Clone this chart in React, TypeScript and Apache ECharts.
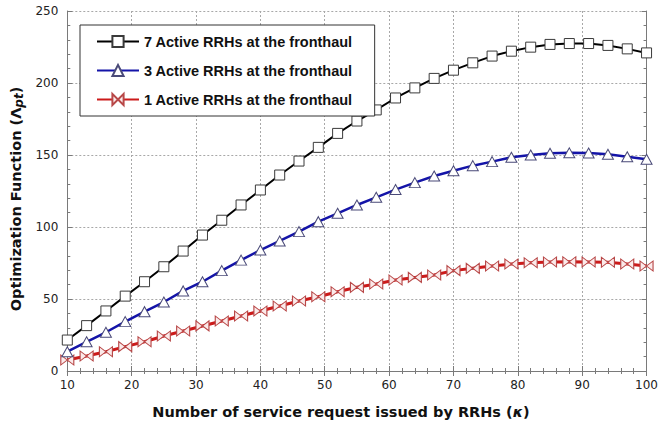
import React, { useEffect, useRef } from "react";
import * as echarts from "echarts";

// Number of service requests (κ), sampled every 3 units
const kappa: number[] = [10, 13, 16, 19, 22, 25, 28, 31, 34, 37, 40, 43, 46, 49, 52, 55, 58, 61, 64, 67, 70, 73, 76, 79, 82, 85, 88, 91, 94, 97, 100];

const seriesNames: string[] = [
  "7 Active RRHs at the fronthaul",
  "3 Active RRHs at the fronthaul",
  "1 Active RRHs at the fronthaul",
];

const sevenRRH: number[] = [21.5, 31.5, 41.7, 52, 62, 72.4, 83.3, 94.4, 104.7, 115.3, 125.7, 136.1, 145.8, 155.3, 165, 173.6, 181.3, 189.6, 196.6, 203.2, 208.9, 214, 218.7, 222.1, 224.9, 226.8, 227.4, 227.4, 226.1, 223.7, 220.9];
const threeRRH: number[] = [13.4, 20.3, 26.9, 34.3, 41.2, 47.9, 55.6, 62, 69.7, 77, 84, 90.3, 96.8, 103.7, 109.5, 115.3, 120.6, 126, 130.8, 135.4, 139.1, 142.6, 145.4, 148.4, 150, 151.2, 151.5, 151.4, 150.5, 148.8, 147];
const oneRRH: number[] = [7.6, 10.4, 13.4, 16.9, 20.3, 24.3, 27.8, 31.3, 34.7, 38.2, 41.7, 45.1, 48.6, 51.6, 55, 58.1, 60.4, 63.2, 65, 66.7, 69.7, 71.3, 72.9, 74.3, 75.2, 75.7, 75.9, 75.7, 75.5, 74.3, 72.9];

const FONT = "Arial, 'Liberation Sans', sans-serif";
const WIDE = "'DejaVu Sans', Verdana, sans-serif";
const bowtie = "path://M0,0L10,5L0,10ZM20,0L10,5L20,10Z";

const pairs = (ys: number[]) => kappa.map((k, i) => [k, ys[i]]);

export default function App() {
  const ref = useRef<HTMLDivElement>(null);

  useEffect(() => {
    if (!ref.current) return;
    const chart = echarts.init(ref.current, null, { renderer: "svg" });

    const frameAxis = {
      axisLine: { show: true, lineStyle: { color: "#7a7a7a", width: 1 } },
      axisTick: { show: true, inside: true, length: 5, lineStyle: { color: "#7a7a7a" } },
      minorTick: { show: true, splitNumber: 5, length: 3, lineStyle: { color: "#7a7a7a" } },
      axisLabel: { show: false },
      splitLine: { show: false },
    };

    chart.setOption({
      animation: false,
      backgroundColor: "#ffffff",
      grid: { left: 63, right: 11, top: 11, bottom: 64 },
      legend: {
        left: 80,
        top: 25,
        orient: "vertical",
        backgroundColor: "#ffffff",
        borderColor: "#333333",
        borderWidth: 1,
        padding: [9, 22, 9, 16],
        itemWidth: 42,
        itemHeight: 14,
        itemGap: 14,
        textStyle: { fontFamily: FONT, fontSize: 14.5, fontWeight: "bold", color: "#111" },
        data: seriesNames,
      },
      xAxis: [
        {
          type: "value",
          min: 10,
          max: 100,
          interval: 10,
          axisLine: { show: true, lineStyle: { color: "#7a7a7a" } },
          axisTick: { show: true, inside: true, length: 5, lineStyle: { color: "#7a7a7a" } },
          minorTick: { show: true, splitNumber: 5, length: 3, lineStyle: { color: "#7a7a7a" } },
          axisLabel: { fontFamily: WIDE, fontSize: 12, color: "#222", margin: 8 },
          splitLine: { show: true, lineStyle: { color: "#a8a8a8", type: [2, 2], width: 1 } },
          name: "Number of service request issued by RRHs ({it|κ})",
          nameLocation: "middle",
          nameGap: 33,
          nameTextStyle: {
            fontFamily: WIDE,
            fontSize: 14.5,
            fontWeight: "bold",
            color: "#111",
            padding: [0, 32, 0, 0],
            rich: { it: { fontFamily: WIDE, fontSize: 14.5, fontStyle: "italic", fontWeight: "bold", color: "#111" } },
          },
        },
        { type: "value", position: "top", min: 10, max: 100, interval: 10, ...frameAxis },
      ],
      yAxis: [
        {
          type: "value",
          min: 0,
          max: 250,
          interval: 50,
          axisLine: { show: true, lineStyle: { color: "#7a7a7a" } },
          axisTick: { show: true, inside: true, length: 5, lineStyle: { color: "#7a7a7a" } },
          minorTick: { show: true, splitNumber: 5, length: 3, lineStyle: { color: "#7a7a7a" } },
          axisLabel: { fontFamily: WIDE, fontSize: 12, color: "#222", margin: 9 },
          splitLine: { show: true, lineStyle: { color: "#a8a8a8", type: [2, 2], width: 1 } },
          name: "Optimization Function (Λ{sub|pt})",
          nameLocation: "middle",
          nameGap: 42,
          nameTextStyle: {
            fontFamily: WIDE,
            fontSize: 14.5,
            fontWeight: "bold",
            color: "#111",
            padding: [0, 16, 0, 0],
            rich: {
              sub: { fontFamily: WIDE, fontSize: 12, fontStyle: "italic", fontWeight: "bold", color: "#111", padding: [6, 0, 0, 0] },
            },
          },
        },
        { type: "value", position: "right", min: 0, max: 250, interval: 50, ...frameAxis },
      ],
      series: [
        {
          name: seriesNames[0],
          type: "line",
          data: pairs(sevenRRH),
          symbol: "rect",
          symbolSize: 10,
          lineStyle: { color: "#000000", width: 2 },
          itemStyle: { color: "#ffffff", borderColor: "#3a3a3a", borderWidth: 1 },
          z: 3,
        },
        {
          name: seriesNames[1],
          type: "line",
          data: pairs(threeRRH),
          symbol: "triangle",
          symbolSize: [11, 10],
          lineStyle: { color: "#1414a8", width: 2.5 },
          itemStyle: { color: "#ffffff", borderColor: "#4a4a78", borderWidth: 1 },
          z: 2,
        },
        {
          name: seriesNames[2],
          type: "line",
          data: pairs(oneRRH),
          symbol: bowtie,
          symbolSize: [13, 10],
          lineStyle: { color: "#cc1a1a", width: 3 },
          itemStyle: { color: "#fbeaea", borderColor: "#b84848", borderWidth: 1 },
          z: 1,
        },
      ],
    });

    return () => chart.dispose();
  }, []);

  return <div ref={ref} style={{ width: 661, height: 435, position: "absolute", left: 0, top: 0 }} />;
}
